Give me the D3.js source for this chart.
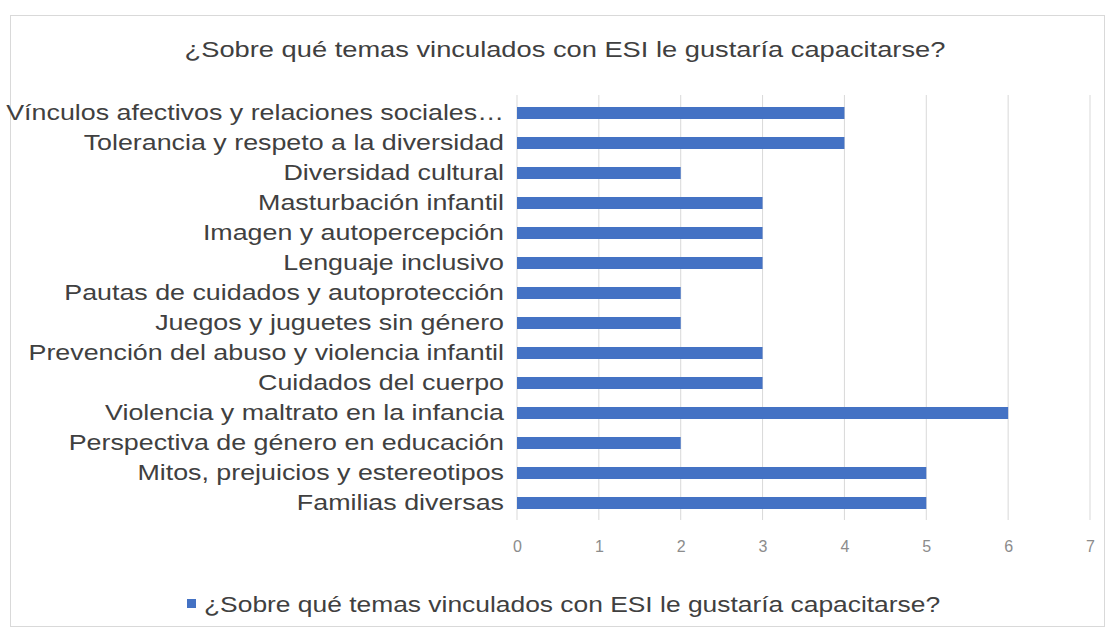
<!DOCTYPE html>
<meta charset="utf-8">
<html lang="es"></html>
<script src="https://d3js.org/d3.v7.min.js"></script>
<style>
  body { margin: 0; background: #fff; }
  text { font-family: "Liberation Sans", Arial, sans-serif; }
</style>
<div id="chart"></div>
<script>
    // data
    const temas = [
        "Vínculos afectivos y relaciones sociales…",
        "Tolerancia y respeto a la diversidad",
        "Diversidad cultural",
        "Masturbación infantil",
        "Imagen y autopercepción",
        "Lenguaje inclusivo",
        "Pautas de cuidados y autoprotección",
        "Juegos y juguetes sin género",
        "Prevención del abuso y violencia infantil",
        "Cuidados del cuerpo",
        "Violencia y maltrato en la infancia",
        "Perspectiva de género en educación",
        "Mitos, prejuicios y estereotipos",
        "Familias diversas"
    ];
    const valores = [4, 4, 2, 3, 3, 3, 2, 2, 3, 3, 6, 2, 5, 5];
    const ticks = [0, 1, 2, 3, 4, 5, 6, 7];
    const titulo = "¿Sobre qué temas vinculados con ESI le gustaría capacitarse?";

    const W = 1115, H = 632;
    const margin = {top: 98, left: 517};
    const sx = 1.22; // the picture is stretched sideways

    const svg = d3.select("#chart")
        .append("svg")
            .attr("width", W)
            .attr("height", H);

    // chart frame
    svg.append("rect")
        .attr("x", 10.5).attr("y", 15.5)
        .attr("width", 1094).attr("height", 611)
        .attr("fill", "#fff")
        .attr("stroke", "#d9d9d9");

    // title
    svg.append("text")
        .text(titulo)
        .attr("text-anchor", "middle")
        .attr("transform", "translate(565,57) scale(1.24,1)")
        .attr("fill", "#404040")
        .style("font-size", "22px");

    const g = svg.append("g")
        .attr("transform", "translate(" + margin.left + "," + margin.top + ")");

    const x = d3.scaleLinear()
        .domain([0, 7])
        .range([0, 573]);

    const y = d3.scaleBand()
        .domain(temas)
        .range([0, 420])
        .paddingInner(0.6)
        .paddingOuter(0.3);

    // gridlines
    g.selectAll(".grid")
        .data(ticks)
        .enter()
        .append("line")
            .attr("x1", function(d) { return x(d); })
            .attr("x2", function(d) { return x(d); })
            .attr("y1", -3)
            .attr("y2", 422)
            .attr("stroke", "#d9d9d9")
            .attr("stroke-width", 1);

    // bars
    g.selectAll(".bar")
        .data(valores)
        .enter()
        .append("rect")
            .attr("x", x(0))
            .attr("y", function(d, i) { return y(temas[i]); })
            .attr("width", function(d) { return x(d) - x(0); })
            .attr("height", y.bandwidth())
            .attr("fill", "#4472c4");

    // y axis labels
    const yAxis = g.append("g")
        .call(d3.axisLeft(y).tickSize(0));
    yAxis.select(".domain").remove();
    yAxis.selectAll("text")
        .attr("x", 0)
        .attr("transform", "translate(-13,0) scale(" + sx + ",1)")
        .attr("fill", "#404040")
        .style("font-size", "22px")
        .style("font-family", "'Liberation Sans', Arial, sans-serif");

    // x axis
    const xAxis = g.append("g")
        .attr("transform", "translate(0,422)")
        .call(d3.axisBottom(x).tickValues(ticks).tickFormat(d3.format("d")).tickSize(0).tickPadding(21));
    xAxis.select(".domain").remove();
    xAxis.selectAll("text")
        .attr("fill", "#8c8c8c")
        .style("font-size", "16px")
        .style("font-family", "'Liberation Sans', Arial, sans-serif");

    // legend
    svg.append("rect")
        .attr("x", 187).attr("y", 599)
        .attr("width", 9).attr("height", 9)
        .attr("fill", "#4472c4");
    svg.append("text")
        .text(titulo)
        .attr("transform", "translate(204,612) scale(1.2,1)")
        .attr("fill", "#404040")
        .style("font-size", "22px");
</script>
